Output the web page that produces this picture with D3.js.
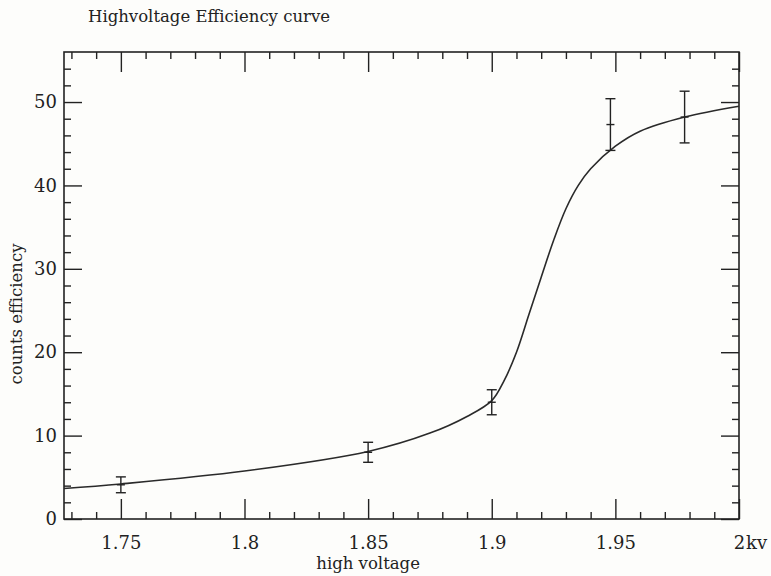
<!DOCTYPE html>
<html>
<head>
<meta charset="utf-8">
<script src="https://cdn.jsdelivr.net/npm/d3@7"></script>
<style>
  html, body { margin: 0; padding: 0; background: #fdfdfb; }
  svg { display: block; }
  text { font-family: "DejaVu Serif", "Liberation Serif", serif; fill: #222; }
</style>
</head>
<body>
<svg id="chart" width="771" height="576"></svg>
<script>
// ---- data ----
const title = "Highvoltage Efficiency curve";
const xLabel = "high voltage";
const yLabel = "counts efficiency";
const xUnit = "kv";

// measured points with error bars
const pointX   = [1.75, 1.85, 1.90, 1.948, 1.978];
const pointY   = [4.1, 8.0, 14.0, 47.3, 48.2];
const pointErr = [0.95, 1.2, 1.5, 3.1, 3.1];

// fitted curve
const curveX = [1.727, 1.75, 1.80, 1.85, 1.875, 1.89, 1.90, 1.905, 1.91, 1.915, 1.92, 1.925, 1.93, 1.935, 1.94, 1.95, 1.96, 1.978, 2.00];
const curveY = [3.65, 4.2, 5.75, 8.1, 10.3, 12.3, 14.2, 16.6, 20.0, 24.5, 29.0, 33.4, 37.2, 40.0, 42.0, 44.7, 46.5, 48.2, 49.5];

// ticks
const xMajorTicks = [1.75, 1.80, 1.85, 1.90, 1.95, 2.00];
const xTickLabels = ["1.75", "1.8", "1.85", "1.9", "1.95", "2"];
const xMinorTicks = [1.73, 1.74, 1.76, 1.77, 1.78, 1.79, 1.81, 1.82, 1.83, 1.84, 1.86, 1.87, 1.88, 1.89, 1.91, 1.92, 1.93, 1.94, 1.96, 1.97, 1.98, 1.99];
const yMajorTicks = [0, 10, 20, 30, 40, 50];
const yTickLabels = ["0", "10", "20", "30", "40", "50"];
const yMinorTicks = [2, 4, 6, 8, 12, 14, 16, 18, 22, 24, 26, 28, 32, 34, 36, 38, 42, 44, 46, 48, 52, 54];

const xDomain = [1.727, 2.0];
const yDomain = [0, 56];

// ---- layout ----
const L = 64, R = 739, T = 52, B = 519;
const ink = "#222";

const svg = d3.select("#chart");
const x = d3.scaleLinear().domain(xDomain).range([L, R]);
const y = d3.scaleLinear().domain(yDomain).range([B, T]);

function styleAxis(g) {
  g.select(".domain").remove();
  g.selectAll(".tick line").attr("stroke", ink).attr("stroke-width", 1.4);
  g.selectAll(".tick text").attr("fill", ink)
    .style("font-family", '"DejaVu Serif", "Liberation Serif", serif')
    .style("font-size", "18px");
}

// bottom major (with labels)
svg.append("g").attr("transform", `translate(0,${B})`)
  .call(d3.axisBottom(x).tickValues(xMajorTicks)
    .tickFormat((d, i) => xTickLabels[i])
    .tickSizeInner(-20).tickSizeOuter(0).tickPadding(17))
  .call(styleAxis);
// bottom minor
svg.append("g").attr("transform", `translate(0,${B})`)
  .call(d3.axisBottom(x).tickValues(xMinorTicks).tickFormat("")
    .tickSizeInner(-7).tickSizeOuter(0))
  .call(styleAxis);
// top major / minor
svg.append("g").attr("transform", `translate(0,${T})`)
  .call(d3.axisTop(x).tickValues(xMajorTicks).tickFormat("")
    .tickSizeInner(-20).tickSizeOuter(0))
  .call(styleAxis);
svg.append("g").attr("transform", `translate(0,${T})`)
  .call(d3.axisTop(x).tickValues(xMinorTicks).tickFormat("")
    .tickSizeInner(-7).tickSizeOuter(0))
  .call(styleAxis);
// left major (with labels)
svg.append("g").attr("transform", `translate(${L},0)`)
  .call(d3.axisLeft(y).tickValues(yMajorTicks)
    .tickFormat((d, i) => yTickLabels[i])
    .tickSizeInner(-18).tickSizeOuter(0).tickPadding(7))
  .call(styleAxis);
svg.append("g").attr("transform", `translate(${L},0)`)
  .call(d3.axisLeft(y).tickValues(yMinorTicks).tickFormat("")
    .tickSizeInner(-7).tickSizeOuter(0))
  .call(styleAxis);
// right major / minor
svg.append("g").attr("transform", `translate(${R},0)`)
  .call(d3.axisRight(y).tickValues(yMajorTicks).tickFormat("")
    .tickSizeInner(-18).tickSizeOuter(0))
  .call(styleAxis);
svg.append("g").attr("transform", `translate(${R},0)`)
  .call(d3.axisRight(y).tickValues(yMinorTicks).tickFormat("")
    .tickSizeInner(-7).tickSizeOuter(0))
  .call(styleAxis);

// frame
svg.append("rect")
  .attr("x", L).attr("y", T).attr("width", R - L).attr("height", B - T)
  .attr("fill", "none").attr("stroke", ink).attr("stroke-width", 1.6);

// unit after the "2" label
svg.append("text")
  .attr("x", x(2.0) + 7).attr("y", B + 17)
  .attr("dy", "0.71em")
  .style("font-size", "18px")
  .text(xUnit);

// curve
const line = d3.line()
  .x((d, i) => x(curveX[i]))
  .y((d, i) => y(curveY[i]))
  .curve(d3.curveCatmullRom.alpha(0.5));
svg.append("path")
  .datum(curveX)
  .attr("d", line)
  .attr("fill", "none")
  .attr("stroke", "#2a2a2a")
  .attr("stroke-width", 1.6);

// error bars
const eb = svg.append("g").attr("stroke", ink).attr("stroke-width", 1.4);
pointX.forEach((px, i) => {
  const cx = x(px);
  const y0 = y(pointY[i] - pointErr[i]);
  const y1 = y(pointY[i] + pointErr[i]);
  const ym = y(pointY[i]);
  eb.append("line").attr("x1", cx).attr("x2", cx).attr("y1", y0).attr("y2", y1);
  eb.append("line").attr("x1", cx - 5).attr("x2", cx + 5).attr("y1", y0).attr("y2", y0);
  eb.append("line").attr("x1", cx - 5).attr("x2", cx + 5).attr("y1", y1).attr("y2", y1);
  eb.append("line").attr("x1", cx - 4).attr("x2", cx + 4).attr("y1", ym).attr("y2", ym);
});

// title
svg.append("text")
  .attr("x", 88).attr("y", 22)
  .style("font-size", "16.5px")
  .text(title);

// axis titles
svg.append("text")
  .attr("x", x(1.85)).attr("y", 569)
  .attr("text-anchor", "middle")
  .style("font-size", "16.5px")
  .text(xLabel);

svg.append("text")
  .attr("transform", `translate(22,314) rotate(-90)`)
  .attr("text-anchor", "middle")
  .style("font-size", "16.5px")
  .text(yLabel);
</script>
</body>
</html>
